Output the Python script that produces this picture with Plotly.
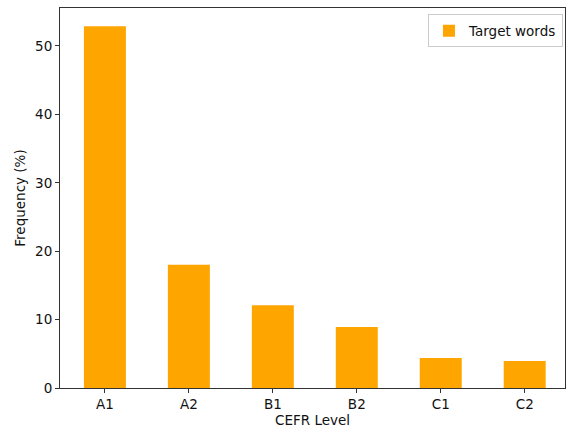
import plotly.graph_objects as go

categories = ["A1", "A2", "B1", "B2", "C1", "C2"]
target_words = [52.9, 18.0, 12.1, 8.9, 4.4, 3.95]
y_ticks = [0, 10, 20, 30, 40, 50]

FS = 13.5
font = dict(family="DejaVu Sans", size=FS, color="#111")

fig = go.Figure()
fig.add_trace(go.Bar(
    x=list(range(len(categories))), y=target_words, name="Target words",
    marker=dict(color="#FFA500", line=dict(width=0)), width=0.5,
))

fig.update_layout(
    width=566, height=439,
    margin=dict(l=60, r=1, t=8, b=51),
    paper_bgcolor="white", plot_bgcolor="white",
    font=font,
    showlegend=True,
    legend=dict(x=0.996, y=0.983, xanchor="right", yanchor="top",
                bordercolor="#cccccc", borderwidth=1, bgcolor="white",
                font=dict(family="DejaVu Sans", size=FS, color="#111")),
    xaxis=dict(
        range=[-0.535, 5.48], tickmode="array",
        tickvals=list(range(len(categories))), ticktext=categories,
        showgrid=False, zeroline=False,
        showline=True, linecolor="#333", linewidth=1, mirror=True,
        ticks="outside", ticklen=4, tickcolor="#333",
        tickfont=dict(family="DejaVu Sans", size=FS, color="#111"),
        title=dict(text="CEFR Level", standoff=4,
                   font=dict(family="DejaVu Sans", size=FS, color="#111")),
    ),
    yaxis=dict(
        range=[0, 55.55], tickmode="array", tickvals=y_ticks,
        showgrid=False, zeroline=False,
        showline=True, linecolor="#333", linewidth=1, mirror=True,
        ticks="outside", ticklen=4, tickcolor="#333",
        tickfont=dict(family="DejaVu Sans", size=FS, color="#111"),
        title=dict(text="Frequency (%)", standoff=6,
                   font=dict(family="DejaVu Sans", size=FS, color="#111")),
    ),
)

fig.write_html("out.html",
               config={"displayModeBar": False},
               post_script="document.body.style.margin='0';document.body.style.overflow='hidden';")
